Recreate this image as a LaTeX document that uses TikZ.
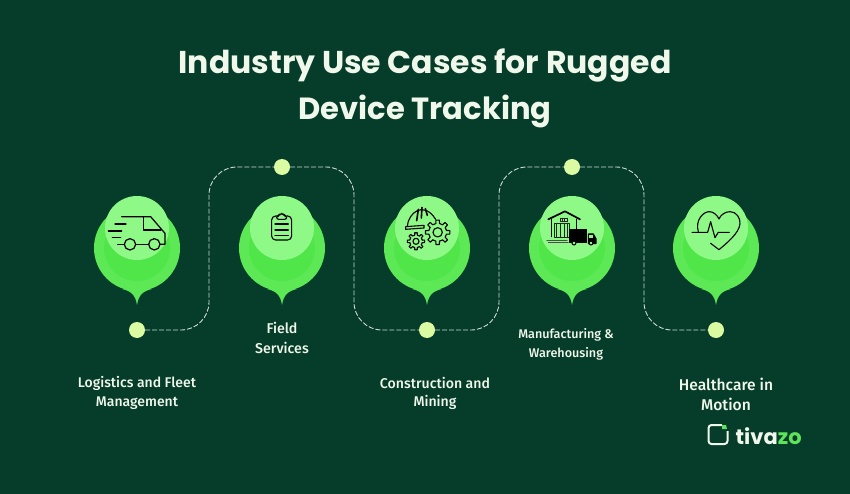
\documentclass[tikz,border=0pt]{standalone}
\usepackage{fontspec}
\setmainfont{Fira Sans Medium}
\newfontfamily\titlefont{Poppins}
\usetikzlibrary{calc}
\definecolor{bgback}{HTML}{063C2A}
\definecolor{pinouter}{HTML}{5DE955}
\definecolor{pinmiddle}{HTML}{50E548}
\definecolor{pintop}{HTML}{8EF986}
\definecolor{dotfill}{HTML}{DAFBA2}
\definecolor{linkgrey}{HTML}{CFDDD3}
\definecolor{textwhite}{HTML}{F0F8EC}
\definecolor{zogreen}{HTML}{5FE35A}

\begin{document}
\begin{tikzpicture}
[x=1pt,y=-1pt,
heading/.style={text=textwhite, font=\titlefont\bfseries\fontsize{31.5}{31.5}\selectfont, inner sep=0pt},
label/.style={text=textwhite, font=\fontsize{14}{19}\selectfont, align=center, inner sep=0pt},
outer/.style={circle, fill=pinouter, minimum size=86pt, inner sep=0pt},
middle/.style={circle, fill=pinmiddle, minimum size=66pt, inner sep=0pt},
top/.style={circle, fill=pintop, minimum size=64pt, inner sep=0pt},
dot/.style={circle, fill=dotfill, minimum size=16pt, inner sep=0pt},
link/.style={draw=linkgrey, line width=0.9pt, dash pattern=on 5pt off 2pt, rounded corners=28pt},
icon/.style={draw=black, line width=1.1pt, line join=round, line cap=round},
zoomed/.style={x=0.3333pt,y=-0.3333pt}]
\useasboundingbox (0,0) rectangle (850,494);
\fill[bgback] (0,0) rectangle (850,494);
% title
\node [heading] (title1) at (425,65) {Industry Use Cases for Rugged};
\node [heading,font=\titlefont\bfseries\fontsize{30.6}{31}\selectfont] (title2) at (425,111) {Device Tracking};
% pins
\foreach \i/\x in {1/137,2/282,3/427,4/572,5/716}
{
\fill[pinouter] (\x-15,289) .. controls (\x-6,291) and (\x-1.5,295) .. (\x,305)
  .. controls (\x+1.5,295) and (\x+6,291) .. (\x+15,289) -- cycle;
\node [outer] (pin\i) at (\x,248) {};
\node [middle] (mid\i) at (\x,248) {};
\node [top] (head\i) at (\x,228) {};
}
% dots
\foreach \i/\x/\y in {1/137/330,2/282/167,3/427/330,4/572/167,5/716/330}
\node [dot] (dot\i) at (\x,\y) {};
% bends
\coordinate (bend1) at (209,330);
\coordinate (bend2) at (209,167);
\coordinate (bend3) at (354,167);
\coordinate (bend4) at (354,330);
\coordinate (bend5) at (499,330);
\coordinate (bend6) at (499,167);
\coordinate (bend7) at (644,167);
\coordinate (bend8) at (644,330);
\path [link] (dot1) -- (bend1) -- (bend2) -- (dot2);
\path [link] (dot2) -- (bend3) -- (bend4) -- (dot3);
\path [link] (dot3) -- (bend5) -- (bend6) -- (dot4);
\path [link] (dot4) -- (bend7) -- (bend8) -- (dot5);
% labels
\node [label] (logistics) at (137,393) {Logistics and Fleet\\Management};
\node [label,font=\fontsize{14.2}{20}\selectfont] (field) at (282,338) {Field\\Services};
\node [label,font=\fontsize{14.1}{18}\selectfont] (construction) at (435,393) {Construction and\\Mining};
\node [label,font=\fontsize{12.6}{19}\selectfont] (manufacturing) at (566,344) {Manufacturing \&\\Warehousing};
\node [label,font=\fontsize{15.6}{20}\selectfont] (healthcare) at (726,394) {Healthcare in\\Motion};
% truck
\begin{scope}[shift={(80,150)},zoomed]
\draw[icon,line width=1.2pt] (125,200) -- (212,200) -- (255,250) -- (255,283) -- (240,283);
\draw[icon,line width=1.2pt] (190,200) -- (190,240) -- (243,240);
\draw[icon,line width=1.2pt] (150,283) circle (17) (223,283) circle (17);
\draw[icon,line width=1.2pt] (167,283) -- (206,283) (113,283) -- (133,283);
\draw[icon,line width=1.2pt] (105,222) -- (138,222) (85,243) -- (125,243) (97,262) -- (122,262);
% clipboard
\draw[icon,rounded corners=4pt] (590,198) -- (575,198) -- (575,270) -- (635,270) -- (635,198) -- (620,198);
\draw[icon,rounded corners=2pt] (590,208) -- (590,198) -- (598,198) -- (600,190) -- (610,190) -- (612,198) -- (620,198) -- (620,208) -- cycle;
\draw[icon] (585,222) -- (625,222) (585,240) -- (625,240) (585,256) -- (625,256);
\end{scope}
% helmet and gears
\begin{scope}[shift={(370,150)},zoomed]
\draw[icon] (112,228) .. controls (115,190) and (160,150) .. (197,208);
\draw[icon] (107,238) -- (107,230) -- (162,226) -- (162,234) -- cycle;
\draw[icon,line width=1.6pt] (140,212) -- (145,178) (154,204) -- (156,172) (172,196) -- (166,176);
\foreach \cx/\cy/\ro/\ri/\rh in {203/247/37/27/14,138/274/26/19/9}
{
\draw[icon] (\cx,\cy) circle (\rh);
\foreach \a in {0,45,...,315}
\draw[icon] ($(\cx,\cy)+(\a-12:\ri)$) -- ($(\cx,\cy)+(\a-8:\ro)$) -- ($(\cx,\cy)+(\a+8:\ro)$) -- ($(\cx,\cy)+(\a+12:\ri)$) -- ($(\cx,\cy)+(\a+33:\ri)$);
}
% warehouse
\draw[icon,line width=1.7pt] (535,208) -- (585,184) -- (630,208);
\draw[icon,line width=1.3pt] (545,208) -- (545,260) (620,208) -- (620,238);
\draw[icon,step=11,draw=black!85,line width=1pt] (555,220) grid (600,262) (555,220) rectangle (600,262);
\draw[icon,step=8,draw=black!85,line width=0.8pt] (572,205) grid (592,215) (572,205) rectangle (592,215);
\draw[icon,line width=0.6pt,draw=black!70] (530,270) -- (592,270) (535,278) -- (595,278);
\fill[black] (597,238) rectangle (652,278);
\draw[icon,fill=black] (655,252) -- (670,252) -- (678,266) -- (678,281) -- (655,281) -- cycle;
\fill[pintop] (658,255) rectangle (668,264);
\draw[icon,fill=pintop] (612,279) circle (6) (663,279) circle (6);
% heart
\draw[icon] (985,245) .. controls (975,210) and (1000,185) .. (1018,185)
  .. controls (1030,185) and (1042,195) .. (1047,207)
  .. controls (1052,195) and (1065,185) .. (1080,185)
  .. controls (1100,185) and (1112,205) .. (1110,222)
  .. controls (1107,250) and (1070,280) .. (1047,299) -- (1022,280);
\draw[icon] (966,247) -- (1013,247) -- (1022,215) -- (1035,263) -- (1045,247) -- (1078,247);
\end{scope}
% logo
\draw[textwhite,line width=2pt,rounded corners=3pt] (722,425) -- (708.5,425) -- (708.5,444) -- (727.5,444) -- (727.5,431);
\fill[zogreen] (722,425) -- (726,425) -- (727,429) -- (722,429) -- cycle;
\node [anchor=west, inner sep=0pt, font=\titlefont\bfseries\fontsize{21}{21}\selectfont, text=textwhite] (logo) at (735.5,436) {tiva\textcolor{zogreen}{zo}};
\end{tikzpicture}
\end{document}
